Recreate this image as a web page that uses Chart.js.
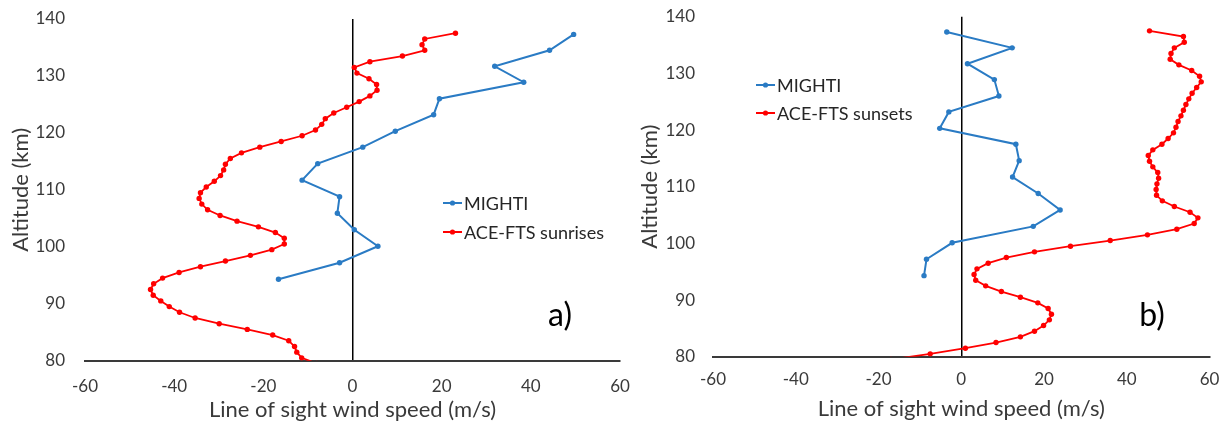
<!DOCTYPE html>
<html>
<head>
<meta charset="utf-8">
<script src="https://cdn.jsdelivr.net/npm/chart.js@4.4.1/dist/chart.umd.min.js"></script>
<style>
  html, body { margin: 0; padding: 0; background: #fff; }
  #wrap { position: relative; width: 1228px; height: 423px; overflow: hidden; }
  .pane { position: absolute; top: 0; height: 423px; }
  #pa { left: 0; width: 640px; }
  #pb { left: 614px; width: 614px; }
</style>
</head>
<body>
<div id="wrap">
  <div class="pane" id="pa"><canvas id="ca"></canvas></div>
  <div class="pane" id="pb"><canvas id="cb"></canvas></div>
</div>
<script>
// ---------------- DATA ----------------
const xTicks = [-60, -40, -20, 0, 20, 40, 60];
const yTicks = [80, 90, 100, 110, 120, 130, 140];

// MIGHTI altitude grid (km), shared by both panels
const mightiAlt = [137.3, 134.5, 131.7, 128.9, 126.0, 123.2, 120.3, 117.5, 114.6, 111.7, 108.8, 105.9, 103.0, 100.1, 97.2, 94.3];
// MIGHTI LOS wind (m/s) - panel a
const mightiWindA = [49.6, 44.2, 31.9, 38.4, 19.5, 18.2, 9.6, 2.3, -7.8, -11.3, -2.9, -3.4, 0.4, 5.7, -2.9, -16.6];
// MIGHTI LOS wind (m/s) - panel b
const mightiWindB = [-3.5, 12.3, 1.5, 8.0, 9.1, -3.0, -5.2, 13.2, 14.0, 12.4, 18.6, 23.9, 17.4, -2.2, -8.4, -9.0];

// ACE-FTS altitude grid (km)
const aceAlt = [137.5, 136.5, 135.5, 134.5, 133.5, 132.5, 131.5, 130.5, 129.5, 128.5,
                127.5, 126.5, 125.5, 124.5, 123.5, 122.5, 121.5, 120.5, 119.5, 118.5,
                117.5, 116.5, 115.5, 114.5, 113.5, 112.5, 111.5, 110.5, 109.5, 108.5,
                107.5, 106.5, 105.5, 104.5, 103.5, 102.5, 101.5, 100.5, 99.5, 98.5,
                97.5, 96.5, 95.5, 94.5, 93.5, 92.5, 91.5, 90.5, 89.5, 88.5,
                87.5, 86.5, 85.5, 84.5, 83.5, 82.5, 81.5, 80.5, 79.5];
// ACE-FTS sunrises LOS wind (m/s) - panel a
const aceSunrise = [23.1, 16.2, 15.6, 16.2, 11.2, 3.9, 0.4, 1.0, 3.7, 5.4,
                    5.5, 3.9, 1.5, -1.3, -4.2, -6.1, -6.9, -8.3, -11.3, -16.0,
                    -20.8, -24.9, -27.4, -28.5, -28.9, -29.6, -31.0, -32.8, -34.1, -34.4,
                    -33.8, -32.5, -29.7, -25.9, -21.1, -17.3, -15.3, -15.3, -18.1, -22.9,
                    -28.5, -34.1, -38.9, -42.6, -44.6, -45.3, -44.7, -43.0, -41.1, -38.8,
                    -35.3, -29.9, -23.6, -17.9, -14.3, -13.0, -12.5, -11.4, -8.0];
// ACE-FTS sunsets LOS wind (m/s) - panel b
const aceSunset = [45.5, 53.7, 53.9, 51.5, 50.7, 50.5, 52.6, 55.7, 57.6, 58.0,
                   56.9, 55.8, 55.0, 54.3, 53.7, 53.1, 52.4, 51.9, 51.3, 50.0,
                   48.5, 46.3, 45.2, 45.5, 46.3, 47.5, 47.7, 47.3, 47.1, 47.2,
                   48.6, 51.5, 55.3, 57.2, 56.3, 52.1, 45.0, 36.0, 26.4, 17.7,
                   10.9, 6.5, 3.8, 3.1, 3.5, 5.9, 9.7, 14.3, 18.5, 21.0,
                   21.8, 21.3, 19.9, 17.7, 14.3, 8.4, 1.0, -7.5, -17.0];

const seriesNames = ["MIGHTI", "ACE-FTS sunrises", "ACE-FTS sunsets"];
const panelLabels = ["a)", "b)"];

// ---------------- STYLE ----------------
const BLUE = "#2a7bc4";
const RED = "#ff0000";
const FONT = "Lato, 'Open Sans', 'Liberation Sans', sans-serif";
const TXT = "#3a3a3a";

function pts(xs, ys) { return xs.map((v, i) => ({ x: v, y: ys[i] })); }

const overlayPlugin = {
  id: "overlay",
  afterDraw(chart, args, opts) {
    const ctx = chart.ctx;
    ctx.save();
    chart.data.datasets.forEach((ds, i) => {
      const y = opts.legendY + i * opts.legendGap;
      const x0 = opts.legendX;
      ctx.strokeStyle = ds.borderColor;
      ctx.lineWidth = 2;
      ctx.beginPath(); ctx.moveTo(x0, y); ctx.lineTo(x0 + 19, y); ctx.stroke();
      ctx.fillStyle = ds.borderColor;
      ctx.beginPath(); ctx.arc(x0 + 9.5, y, 2.6, 0, Math.PI * 2); ctx.fill();
      ctx.fillStyle = "#262626";
      ctx.font = "18px " + FONT;
      ctx.textBaseline = "middle";
      ctx.textAlign = "left";
      ctx.fillText(ds.label, x0 + 21, y + 1);
    });
    ctx.fillStyle = "#000";
    ctx.font = "32px " + FONT;
    ctx.textAlign = "center";
    ctx.textBaseline = "middle";
    ctx.fillText(opts.panel, opts.panelX, opts.panelY);
    ctx.restore();
  }
};

function makeChart(id, mightiW, aceW, aceName, cfg) {
  return new Chart(document.getElementById(id), {
    type: "scatter",
    data: {
      datasets: [
        { label: seriesNames[0], data: pts(mightiW, mightiAlt), showLine: true,
          borderColor: BLUE, backgroundColor: BLUE, borderWidth: 2,
          pointRadius: 2.7, pointBorderWidth: 0, order: 1 },
        { label: aceName, data: pts(aceW, aceAlt), showLine: true,
          borderColor: RED, backgroundColor: RED, borderWidth: 1.8,
          pointRadius: 2.7, pointBorderWidth: 0, order: 2 }
      ]
    },
    options: {
      responsive: true,
      maintainAspectRatio: false,
      animation: false,
      events: [],
      layout: { padding: { left: 0, right: cfg.padRight, top: cfg.padTop, bottom: 0 } },
      plugins: {
        legend: { display: false },
        tooltip: { enabled: false },
        overlay: cfg.overlay
      },
      scales: {
        x: {
          type: "linear", min: xTicks[0], max: xTicks[xTicks.length - 1],
          afterBuildTicks: s => { s.ticks = xTicks.map(v => ({ value: v })); },
          afterFit: s => { s.height = cfg.xHeight; },
          grid: {
            drawTicks: true, tickLength: cfg.xTickLen, tickColor: "rgba(0,0,0,0)",
            color: c => (c.tick && c.tick.value === 0) ? "#000" : "rgba(0,0,0,0)",
            lineWidth: 1.5
          },
          border: { display: true, color: "#3a3a3a", width: 2 },
          ticks: { color: TXT, font: { family: FONT, size: 17 }, padding: 0, maxRotation: 0 },
          title: { display: true, text: "Line of sight wind speed (m/s)", color: TXT,
                   font: { family: FONT, size: 22 }, padding: { top: 0, bottom: cfg.xTitlePad } }
        },
        y: {
          type: "linear", min: yTicks[0], max: yTicks[yTicks.length - 1],
          afterBuildTicks: s => { s.ticks = yTicks.map(v => ({ value: v })); },
          afterFit: s => { s.width = cfg.yWidth; },
          grid: { display: false, drawTicks: true, tickLength: cfg.yTickLen },
          border: { display: false },
          ticks: { color: TXT, font: { family: FONT, size: 17 }, padding: 0 },
          title: { display: true, text: "Altitude (km)", color: TXT,
                   font: { family: FONT, size: 22 }, padding: { top: cfg.yTitlePad, bottom: 0 } }
        }
      }
    },
    plugins: [overlayPlugin]
  });
}

makeChart("ca", mightiWindA, aceSunrise, seriesNames[1], {
  padRight: 20, padTop: 19, xHeight: 62.3, yWidth: 85,
  xTickLen: 16, xTitlePad: 0, yTickLen: 20, yTitlePad: 8,
  overlay: { legendX: 443, legendY: 203, legendGap: 29, panel: panelLabels[0], panelX: 560, panelY: 316 }
});
makeChart("cb", mightiWindB, aceSunset, seriesNames[2], {
  padRight: 18.5, padTop: 16.7, xHeight: 66.3, yWidth: 99,
  xTickLen: 13, xTitlePad: 1, yTickLen: 18, yTitlePad: 23,
  overlay: { legendX: 142, legendY: 85, legendGap: 28, panel: panelLabels[1], panelX: 538, panelY: 316 }
});
</script>
</body>
</html>
